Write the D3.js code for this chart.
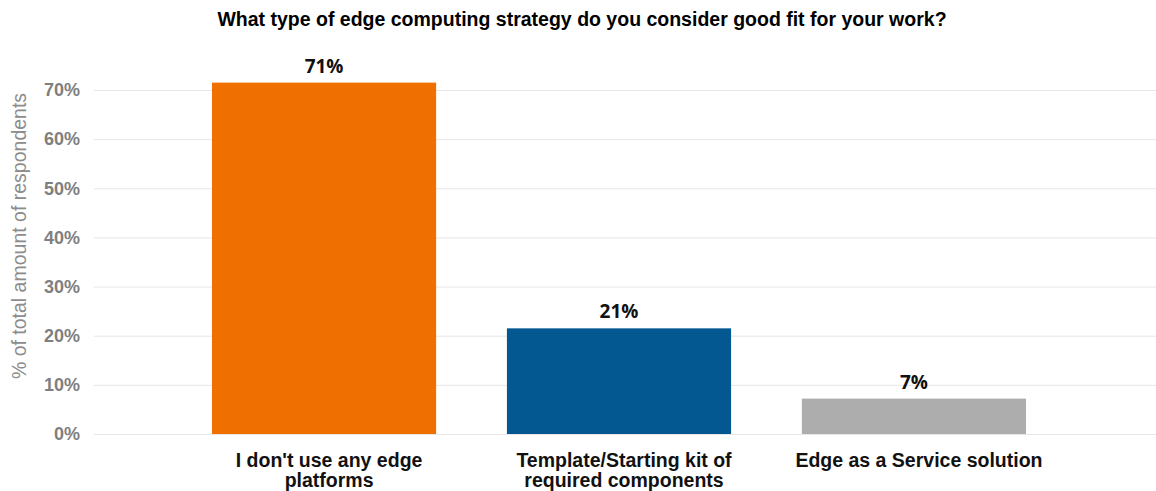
<!DOCTYPE html>
<html>
<head>
<meta charset="utf-8">
<script src="https://cdn.jsdelivr.net/npm/d3@7"></script>
<style>
  body { margin: 0; background: #fff; }
  svg { display: block; }
</style>
</head>
<body>
<div id="chart"></div>
<script>
// chart data
var categories = ["I don't use any edge platforms", "Template/Starting kit of required components", "Edge as a Service solution"]
var labelLines = [["I don't use any edge", "platforms"], ["Template/Starting kit of", "required components"], ["Edge as a Service solution"]]
var values = [71.5, 21.5, 7.2]
var valueLabels = ["71%", "21%", "7%"]
var barColors = ["#EF6F00", "#035892", "#ADADAD"]
var yTicks = [0, 10, 20, 30, 40, 50, 60, 70]

var W = 1156, H = 491

var svg = d3.select("#chart").append("svg")
    .attr("width", W)
    .attr("height", H)

var xScale = d3.scaleBand()
    .domain(categories)
    .range([94, 1144])
    .paddingInner(0.24)
    .paddingOuter(0.4)

var yScale = d3.scaleLinear()
    .domain([0, 70])
    .range([434, 90])

// gridlines + tick labels
var yAxis = d3.axisLeft(yScale)
    .tickValues(yTicks)
    .tickSize(-(W - 94))
    .tickPadding(14)
    .tickFormat(function(d) { return d + "%" })

var yg = svg.append("g")
    .attr("transform", "translate(94,0)")
    .call(yAxis)

yg.select(".domain").remove()
yg.selectAll(".tick line")
    .attr("stroke", "#e6e6e6")
    .attr("stroke-width", 1)
yg.selectAll(".tick text")
    .attr("fill", "#7f7f7f")
    .attr("font-family", "Liberation Sans, Arial, sans-serif")
    .attr("font-weight", "bold")
    .attr("font-size", "18px")

// y title
svg.append("text")
    .attr("transform", "translate(26,236) rotate(-90)")
    .attr("text-anchor", "middle")
    .attr("fill", "#8c8c8c")
    .attr("font-family", "Liberation Sans, Arial, sans-serif")
    .attr("font-size", "19.5px")
    .text("% of total amount of respondents")

// bars
svg.selectAll("rect.bar")
    .data(categories)
    .enter().append("rect")
    .attr("class", "bar")
    .attr("x", function(d) { return xScale(d) })
    .attr("width", xScale.bandwidth())
    .attr("y", function(d, i) { return yScale(values[i]) })
    .attr("height", function(d, i) { return yScale(0) - yScale(values[i]) })
    .attr("fill", function(d, i) { return barColors[i] })

// value labels
svg.selectAll("text.val")
    .data(categories)
    .enter().append("text")
    .attr("class", "val")
    .attr("x", function(d) { return xScale(d) + xScale.bandwidth() / 2 })
    .attr("y", function(d, i) { return yScale(values[i]) - 10 })
    .attr("text-anchor", "middle")
    .attr("fill", "#111")
    .attr("font-family", "Open Sans, sans-serif")
    .attr("font-weight", "bold")
    .attr("font-size", "19px")
    .text(function(d, i) { return valueLabels[i] })

// category labels
var cat = svg.selectAll("text.cat")
    .data(categories)
    .enter().append("text")
    .attr("class", "cat")
    .attr("text-anchor", "middle")
    .attr("fill", "#111")
    .attr("font-family", "Liberation Sans, Arial, sans-serif")
    .attr("font-weight", "bold")
    .attr("font-size", "19.5px")

cat.each(function(d, i) {
    var t = d3.select(this)
    labelLines[i].forEach(function(line, j) {
        t.append("tspan")
            .attr("x", xScale(d) + xScale.bandwidth() / 2 + 5)
            .attr("y", 467 + j * 20)
            .text(line)
    })
})

// title
svg.append("text")
    .attr("x", 582)
    .attr("y", 26)
    .attr("text-anchor", "middle")
    .attr("fill", "#000")
    .attr("font-family", "Liberation Sans, Arial, sans-serif")
    .attr("font-weight", "bold")
    .attr("font-size", "19.5px")
    .text("What type of edge computing strategy do you consider good fit for your work?")
</script>
</body>
</html>
